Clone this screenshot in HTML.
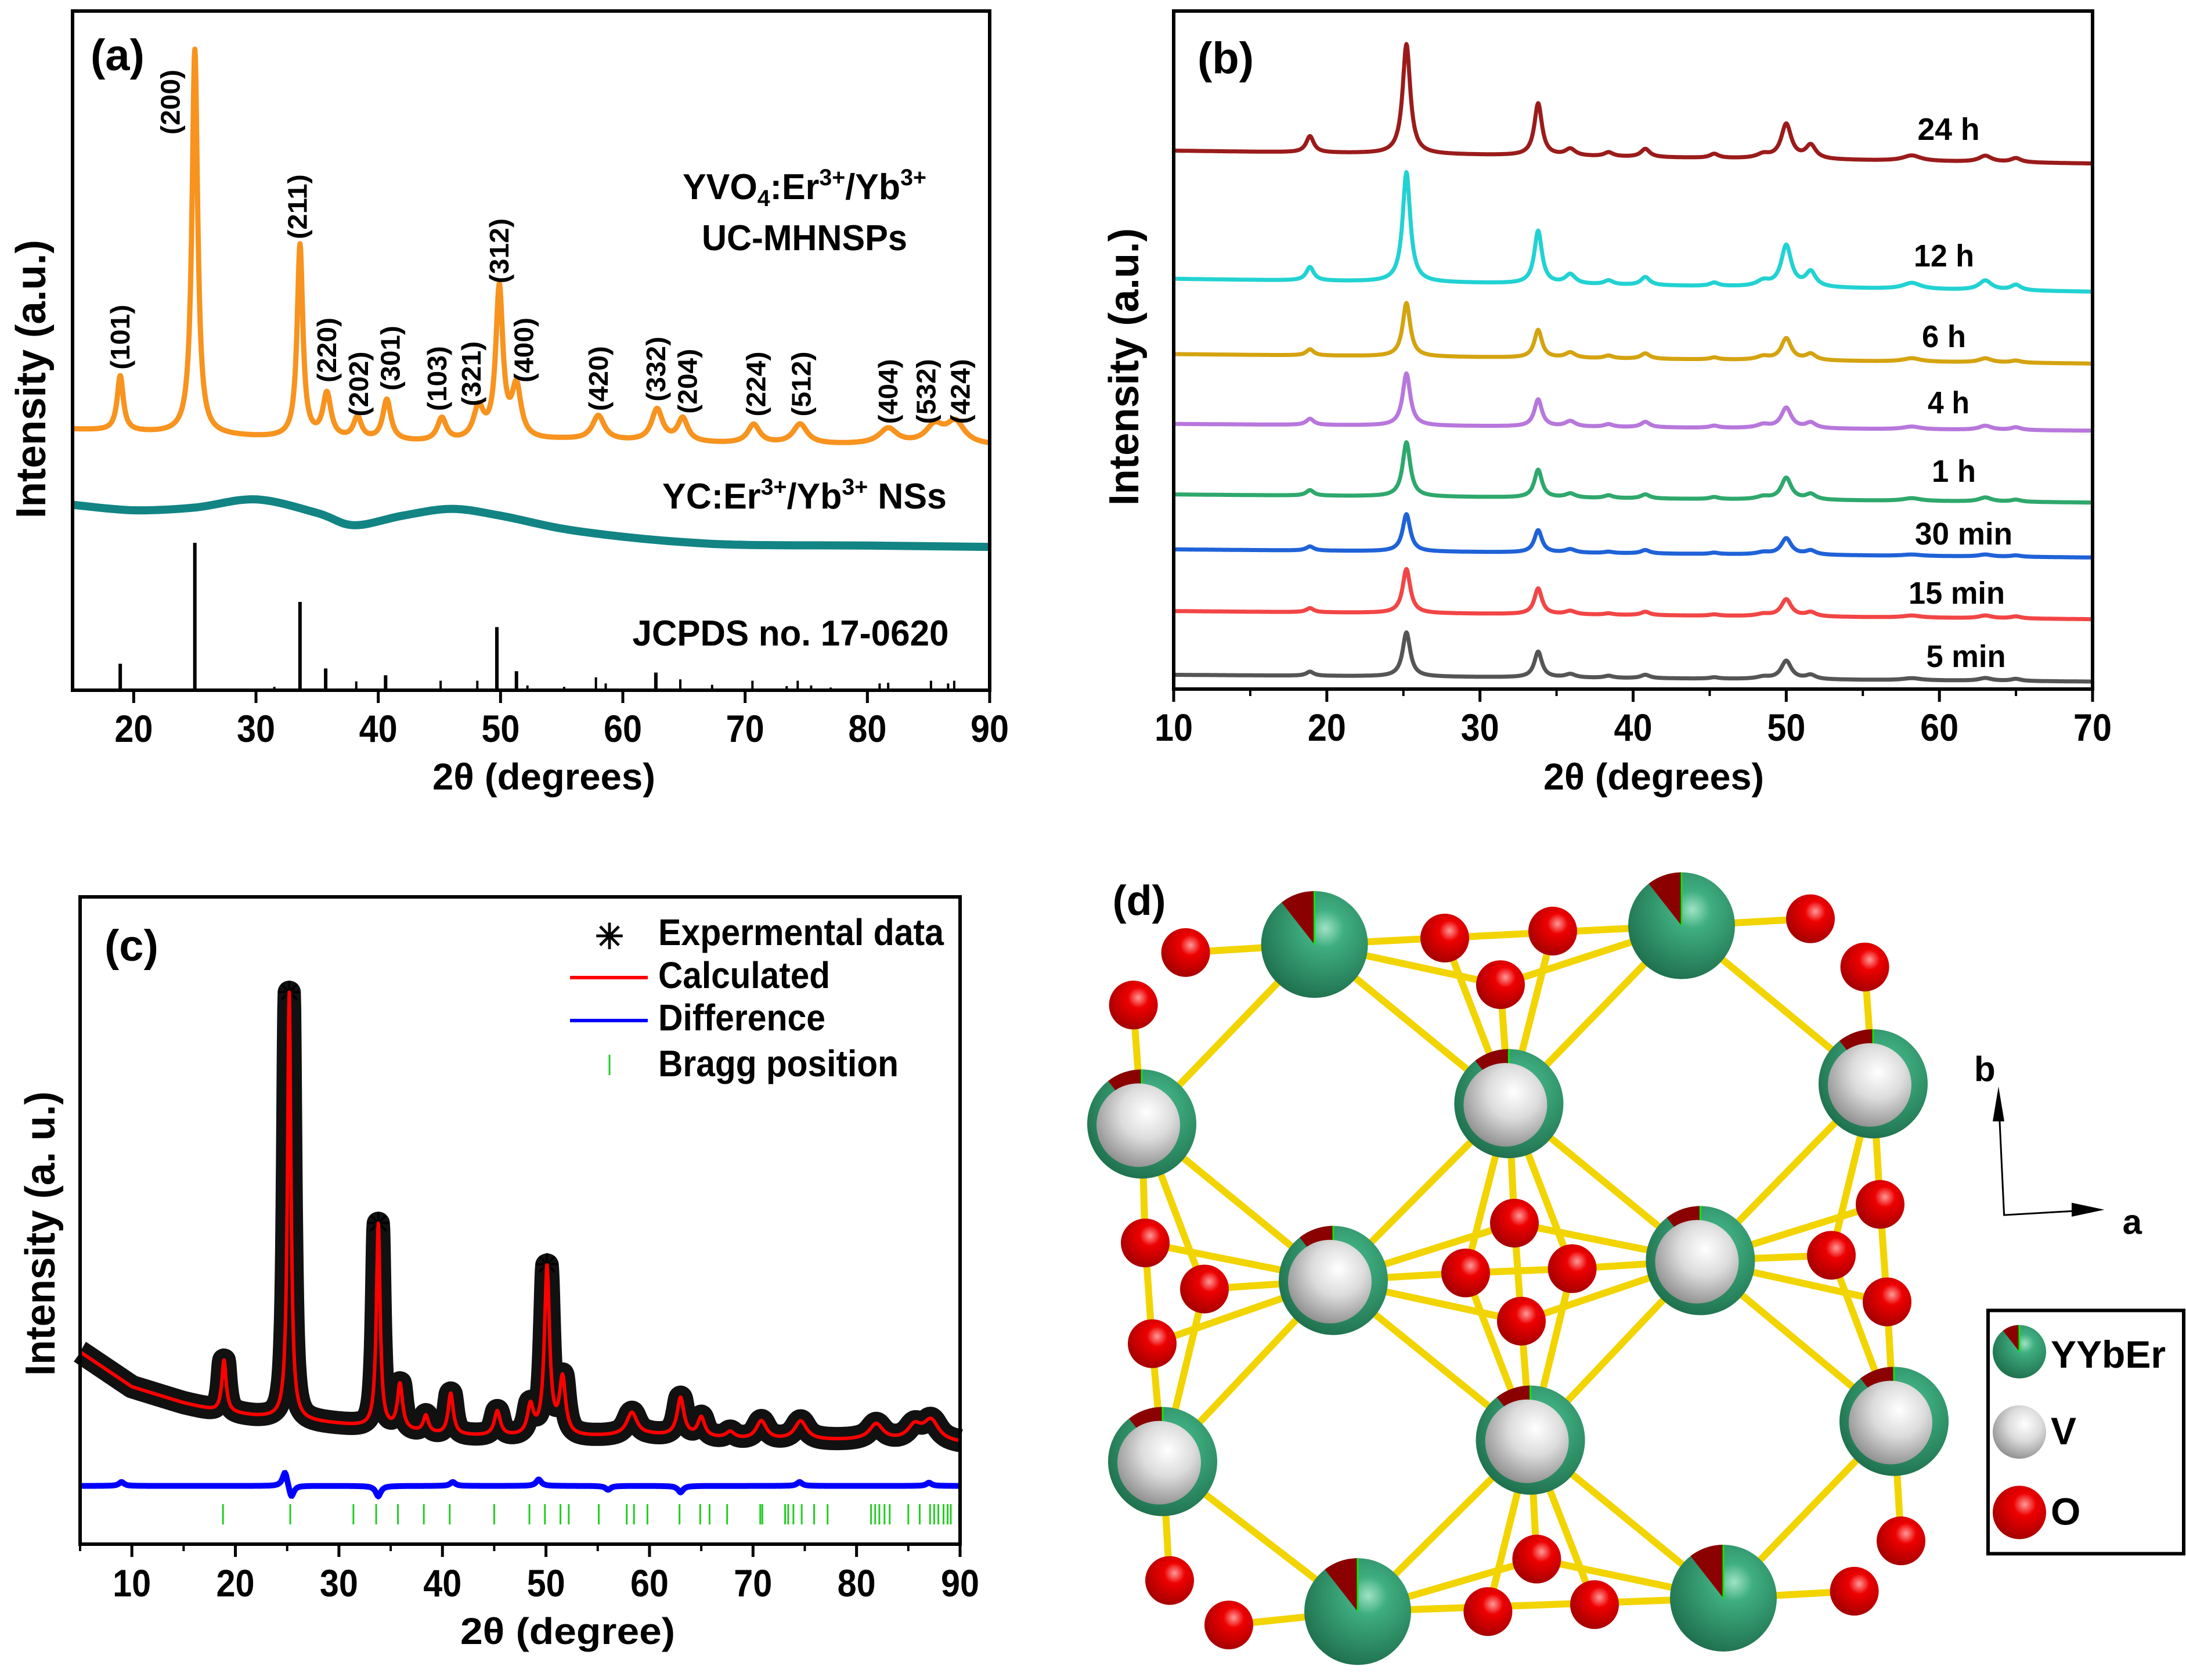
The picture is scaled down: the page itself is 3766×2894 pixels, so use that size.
<!DOCTYPE html>
<html><head><meta charset="utf-8">
<style>
html,body{margin:0;padding:0;background:#fff;}
svg{display:block;}
text{font-family:"Liberation Sans Narrow","Liberation Sans",sans-serif;font-weight:bold;fill:#000;}
</style></head>
<body>
<svg id="fig" width="3766" height="2894" viewBox="0 0 3766 2894" xmlns="http://www.w3.org/2000/svg">
<defs>
<radialGradient id="gGreen" cx="0.6" cy="0.35" r="0.7"><stop offset="0" stop-color="#9fe3c3"/><stop offset="0.25" stop-color="#3fae80"/><stop offset="1" stop-color="#1e6e4c"/></radialGradient>
<radialGradient id="gWhite" cx="0.6" cy="0.35" r="0.7"><stop offset="0" stop-color="#ffffff"/><stop offset="0.45" stop-color="#dcdcdc"/><stop offset="1" stop-color="#8c8c8c"/></radialGradient>
<radialGradient id="gRed" cx="0.6" cy="0.35" r="0.7"><stop offset="0" stop-color="#ff9a9a"/><stop offset="0.3" stop-color="#ee0000"/><stop offset="1" stop-color="#a00000"/></radialGradient>
</defs>
<rect x="0" y="0" width="3766" height="2894" fill="#fff"/>

<g>
<text x="156" y="121" font-size="76">(a)</text>
<text x="1386" y="343" font-size="62" text-anchor="middle" textLength="420" lengthAdjust="spacingAndGlyphs">YVO<tspan font-size="40" dy="12">4</tspan><tspan dy="-12">:Er</tspan><tspan font-size="40" dy="-24">3+</tspan><tspan dy="24">/Yb</tspan><tspan font-size="40" dy="-24">3+</tspan></text>
<text x="1386" y="431" font-size="62" text-anchor="middle" textLength="354" lengthAdjust="spacingAndGlyphs">UC-MHNSPs</text>
<text x="1386" y="876" font-size="62" text-anchor="middle" textLength="490" lengthAdjust="spacingAndGlyphs">YC:Er<tspan font-size="40" dy="-24">3+</tspan><tspan dy="24">/Yb</tspan><tspan font-size="40" dy="-24">3+</tspan><tspan dy="24"> NSs</tspan></text>
<text x="1362" y="1112" font-size="62" text-anchor="middle" textLength="545" lengthAdjust="spacingAndGlyphs">JCPDS no. 17-0620</text>
<text x="937" y="1360" font-size="64" text-anchor="middle" textLength="384" lengthAdjust="spacingAndGlyphs">2θ (degrees)</text>
<text transform="translate(78,653) rotate(-90)" font-size="72" text-anchor="middle" textLength="480" lengthAdjust="spacingAndGlyphs">Intensity (a.u.)</text>
</g>

<g>
<text x="2063" y="126" font-size="76">(b)</text>
<text x="2849" y="1360" font-size="64" text-anchor="middle" textLength="380" lengthAdjust="spacingAndGlyphs">2θ (degrees)</text>
<text transform="translate(1961,632) rotate(-90)" font-size="72" text-anchor="middle" textLength="478" lengthAdjust="spacingAndGlyphs">Intensity (a.u.)</text>
</g>

<g>
<text x="180" y="1655" font-size="76">(c)</text>
<text x="978" y="2832" font-size="64" text-anchor="middle" textLength="370" lengthAdjust="spacingAndGlyphs">2θ (degree)</text>
<text transform="translate(94,2125) rotate(-90)" font-size="72" text-anchor="middle" textLength="490" lengthAdjust="spacingAndGlyphs">Intensity (a. u.)</text>
<g>
<text x="1050" y="1634" font-size="60" text-anchor="middle">✳</text>
<text x="1134" y="1628" font-size="64" textLength="492" lengthAdjust="spacingAndGlyphs">Expermental data</text>
<line x1="982" y1="1684" x2="1116" y2="1684" stroke="#ff0000" stroke-width="6"/>
<text x="1134" y="1702" font-size="64" textLength="296" lengthAdjust="spacingAndGlyphs">Calculated</text>
<line x1="982" y1="1758" x2="1116" y2="1758" stroke="#0000ff" stroke-width="6"/>
<text x="1134" y="1775" font-size="64" textLength="288" lengthAdjust="spacingAndGlyphs">Difference</text>
<line x1="1050" y1="1817" x2="1050" y2="1852" stroke="#22cc22" stroke-width="3"/>
<text x="1134" y="1854" font-size="64" textLength="414" lengthAdjust="spacingAndGlyphs">Bragg position</text>
</g>
</g>

<g id="panelD"></g>
</svg>

<script>
const NS = 'http://www.w3.org/2000/svg';
const svg = document.getElementById('fig');
function mk(tag, parent) { const e = document.createElementNS(NS, tag); (parent || svg).appendChild(e); return e; }

// ---------- DATA: panel a ----------
const aTicks = [20, 30, 40, 50, 60, 70, 80, 90];
const aBaseX = [15, 25, 30, 40, 45, 55, 70, 90];
const aBaseY = [384, 376, 372, 366, 364, 368, 362, 360];
const aPeakPos = [18.9, 25.0, 33.6, 35.8, 38.3, 40.7, 45.2, 48.2, 49.9, 51.3, 58.0, 62.8, 64.9, 70.7, 74.5, 81.7, 85.5, 87.2];
const aPeakHeight = [81, 567, 284, 65, 32, 60, 34, 46, 221, 75, 36, 47, 34, 28, 29, 23, 26, 32];
const aPeakWidth = [0.3, 0.28, 0.28, 0.4, 0.4, 0.4, 0.45, 0.5, 0.35, 0.45, 0.6, 0.55, 0.5, 0.6, 0.7, 0.9, 0.9, 0.9];
const aAmorphX = [15, 20, 25, 30, 35, 38, 42, 46, 50, 55, 60, 65, 70, 80, 90];
const aAmorphY = [273, 265, 269, 281, 261, 243, 257, 267, 257, 238, 226, 218, 214, 213, 211];
const aStickPos = [18.9, 25.0, 31.5, 33.6, 35.7, 38.2, 40.6, 45.1, 48.1, 49.7, 51.3, 52.2, 55.2, 57.8, 58.6, 62.7, 64.7, 67.3, 70.6, 73.4, 74.3, 75.4, 77.0, 81.0, 81.7, 85.2, 86.6, 87.1];
const aStickHeight = [39, 217, 5, 130, 32, 13, 22, 14, 14, 93, 28, 7, 5, 19, 10, 26, 16, 8, 14, 6, 14, 7, 4, 10, 11, 14, 10, 14];
const aLabels = ['(101)', '(200)', '(211)', '(220)', '(202)', '(301)', '(103)', '(321)', '(312)', '(400)', '(420)', '(332)', '(204)', '(224)', '(512)', '(404)', '(532)', '(424)'];
const aLabelX = [18.9, 23.0, 33.4, 35.8, 38.4, 41.0, 44.8, 47.6, 49.9, 51.9, 58.0, 62.7, 65.3, 70.9, 74.6, 81.7, 84.8, 87.6];
const aLabelY = [472, 818, 664, 453, 403, 441, 411, 418, 599, 453, 411, 425, 407, 403, 403, 392, 392, 392];

// ---------- DATA: panel b ----------
const bTicks = [10, 20, 30, 40, 50, 60, 70];
const bPeakPos = [18.9, 25.2, 33.8, 35.9, 38.4, 40.8, 45.3, 48.5, 50.0, 51.6, 58.2, 63.0, 65.0];
const bPeakWidth = [0.3, 0.3, 0.3, 0.4, 0.35, 0.35, 0.35, 0.5, 0.4, 0.4, 0.7, 0.5, 0.4];
const bSeriesNames = ['24 h', '12 h', '6 h', '4 h', '1 h', '30 min', '15 min', '5 min'];
const bSeriesColors = ['#9b1b1b', '#22d2d2', '#d4a310', '#b777dc', '#2ea86c', '#1f62d8', '#f24545', '#555555'];
const bBaseLeft = [794, 605, 494, 391, 287, 206, 115, 21];
const bBaseRight = [775, 586, 480, 381, 275, 194, 103, 11];
const bH24h = [24, 162, 77, 10, 6, 12, 6, 6, 51, 20, 8, 9, 6];
const bH12h = [20, 162, 78, 14, 6, 12, 5, 8, 61, 22, 9, 14, 8];
const bH6h = [9, 79, 41, 8, 4, 8, 3, 5, 32, 9, 5, 6, 3];
const bH4h = [9, 77, 40, 8, 4, 8, 3, 5, 30, 8, 4, 6, 4];
const bH1h = [8, 80, 41, 6, 4, 6, 3, 4, 32, 8, 4, 6, 3];
const bH30m = [6, 55, 33, 5, 2, 5, 2, 3, 24, 6, 2, 3, 2];
const bH15m = [6, 65, 38, 5, 2, 5, 2, 3, 25, 6, 3, 4, 3];
const bH5m = [6, 65, 38, 5, 3, 5, 2, 3, 27, 6, 3, 4, 3];
const bLabelX = [3357, 3349, 3349, 3357, 3366, 3383, 3371, 3387];
const bLabelY = [241, 459, 598, 712, 830, 938, 1040, 1149];
const bLabelW = [107, 104, 76, 72, 76, 168, 166, 137];

// ---------- DATA: panel c ----------
const cTicks = [10, 20, 30, 40, 50, 60, 70, 80, 90];
const cBaseX = [5, 10, 15, 18, 22, 30, 40, 50, 60, 70, 80, 90];
const cBaseY = [297, 243, 218, 206, 197, 185, 168, 164, 168, 160, 160, 156];
const cPeakPos = [18.9, 25.2, 33.8, 35.9, 38.4, 40.8, 45.3, 48.5, 50.1, 51.6, 58.3, 63.0, 65.0, 67.8, 70.8, 74.6, 81.9, 85.6, 87.2];
const cPeakHeight = [80, 660, 315, 70, 26, 64, 38, 45, 261, 87, 35, 59, 30, 10, 29, 29, 25, 22, 32];
const cPeakWidth = [0.25, 0.2, 0.22, 0.3, 0.3, 0.3, 0.35, 0.35, 0.3, 0.35, 0.6, 0.4, 0.4, 0.5, 0.6, 0.7, 0.8, 0.8, 0.9];
const cDiffBase = 90;
const cDiffPos = [9, 24.8, 25.4, 33.8, 41, 49.3, 56, 63, 74.5, 87];
const cDiffAmp = [6, 24, -20, -16, 6, 10, -6, -10, 6, 5];
const cBragg = [18.8, 25.3, 31.4, 33.6, 35.7, 38.2, 40.7, 45.0, 48.4, 49.9, 51.4, 52.2, 55.1, 57.8, 58.5, 59.8, 62.9, 64.9, 65.8, 67.5, 70.7, 70.9, 73.1, 73.4, 73.9, 74.7, 75.9, 77.2, 81.4, 81.8, 82.2, 82.7, 83.2, 85.0, 86.1, 87.1, 87.5, 87.9, 88.4, 88.8, 89.1, 89.9];

// ---------- helpers ----------
function interp(xs, ys, x) {
  if (x <= xs[0]) return ys[0];
  for (let i = 1; i < xs.length; i++) if (x <= xs[i]) { const t = (x - xs[i-1]) / (xs[i] - xs[i-1]); return ys[i-1] + t * (ys[i] - ys[i-1]); }
  return ys[ys.length - 1];
}
function lor(x, pos, h, w) { let s = 0; for (let i = 0; i < pos.length; i++) { const d = (x - pos[i]) / w[i]; s += h[i] / (1 + d * d); } return s; }
function makeAxes(b) {
  b.sx = v => b.x0 + (v - b.d0) / (b.d1 - b.d0) * (b.x1 - b.x0);
  b.sy = v => b.yb - v / 1000 * (b.yb - b.yt);
  return b;
}
function frame(b, ticks, minor, name) {
  const g = mk('g');
  
  
  const r = mk('path', g);
  
  
  r.setAttribute('d', `M${b.x0},${b.yb} L${b.x1},${b.yb} L${b.x1},${b.yt} L${b.x0},${b.yt} Z`);
  r.setAttribute('fill', 'none'); r.setAttribute('stroke', '#000'); r.setAttribute('stroke-width', '6');
  ticks.forEach(t => {
    const l = mk('line', g);
    
    
    l.setAttribute('x1', b.sx(t)); l.setAttribute('x2', b.sx(t)); l.setAttribute('y1', b.yb); l.setAttribute('y2', b.yb + 22);
    l.setAttribute('stroke', '#000'); l.setAttribute('stroke-width', '5');
    const tx = mk('text', g);
    
    
    tx.setAttribute('x', b.sx(t)); tx.setAttribute('y', b.labY);
    tx.setAttribute('font-size', '66'); tx.setAttribute('text-anchor', 'middle');
    tx.setAttribute('textLength', '66'); tx.setAttribute('lengthAdjust', 'spacingAndGlyphs');
    tx.textContent = String(t);
  });
  minor.forEach(t => {
    const l = mk('line', g);
    
    
    l.setAttribute('x1', b.sx(t)); l.setAttribute('x2', b.sx(t)); l.setAttribute('y1', b.yb); l.setAttribute('y2', b.yb + 12);
    l.setAttribute('stroke', '#000'); l.setAttribute('stroke-width', '4');
  });
}
function pathFrom(b, x0, x1, step, f) {
  let d = '';
  for (let x = x0; x <= x1 + 1e-9; x += step) { d += (d ? 'L' : 'M') + b.sx(x).toFixed(1) + ',' + b.sy(f(x)).toFixed(1); }
  return d;
}
function smoothPath(pts) {
  let d = 'M' + pts[0][0].toFixed(1) + ',' + pts[0][1].toFixed(1);
  for (let i = 0; i < pts.length - 1; i++) {
    const p0 = pts[Math.max(0, i - 1)], p1 = pts[i], p2 = pts[i + 1], p3 = pts[Math.min(pts.length - 1, i + 2)];
    const c1 = [p1[0] + (p2[0] - p0[0]) / 6, p1[1] + (p2[1] - p0[1]) / 6];
    const c2 = [p2[0] - (p3[0] - p1[0]) / 6, p2[1] - (p3[1] - p1[1]) / 6];
    d += `C${c1[0].toFixed(1)},${c1[1].toFixed(1)} ${c2[0].toFixed(1)},${c2[1].toFixed(1)} ${p2[0].toFixed(1)},${p2[1].toFixed(1)}`;
  }
  return d;
}

// ---------- Panel a ----------
const A = makeAxes({ x0: 125, x1: 1705, yt: 19, yb: 1189, d0: 15, d1: 90, labY: 1278 });
const gA = mk('g');


const pOr = mk('path', gA);


pOr.setAttribute('d', pathFrom(A, 15, 90, 0.04, x => interp(aBaseX, aBaseY, x) + lor(x, aPeakPos, aPeakHeight, aPeakWidth)));
pOr.setAttribute('fill', 'none'); pOr.setAttribute('stroke', '#f7931e'); pOr.setAttribute('stroke-width', '9'); pOr.setAttribute('stroke-linejoin', 'round');
const pTe = mk('path', gA);


pTe.setAttribute('d', smoothPath(aAmorphX.map((x, i) => [A.sx(x), A.sy(aAmorphY[i])])));
pTe.setAttribute('fill', 'none'); pTe.setAttribute('stroke', '#128484'); pTe.setAttribute('stroke-width', '14'); pTe.setAttribute('stroke-linejoin', 'round');
aStickPos.forEach((p, i) => {
  const l = mk('line', gA);
  
  
  l.setAttribute('x1', A.sx(p)); l.setAttribute('x2', A.sx(p));
  l.setAttribute('y1', A.yb); l.setAttribute('y2', A.sy(aStickHeight[i]));
  l.setAttribute('stroke', '#000'); l.setAttribute('stroke-width', aStickHeight[i] > 20 ? '6' : '4');
});
aLabels.forEach((s, i) => {
  const t = mk('text', gA);
  
  
  const x = A.sx(aLabelX[i]) + 16, y = A.sy(aLabelY[i]);
  t.setAttribute('transform', `translate(${x.toFixed(1)},${y.toFixed(1)}) rotate(-90)`);
  t.setAttribute('font-size', '46'); t.setAttribute('textLength', '112'); t.setAttribute('lengthAdjust', 'spacingAndGlyphs');
  t.textContent = s;
});
frame(A, aTicks, [], 'panel-a');

// ---------- Panel b ----------
const B = makeAxes({ x0: 2022, x1: 3605, yt: 19, yb: 1187, d0: 10, d1: 70, labY: 1276 });
const bHeights = [bH24h, bH12h, bH6h, bH4h, bH1h, bH30m, bH15m, bH5m];
const gB = mk('g');


bSeriesNames.forEach((nm, k) => {
  const p = mk('path', gB);
  
  
  p.setAttribute('d', pathFrom(B, 10, 70, 0.04, x => bBaseLeft[k] + (bBaseRight[k] - bBaseLeft[k]) * (x - 10) / 60 + lor(x, bPeakPos, bHeights[k], bPeakWidth)));
  p.setAttribute('fill', 'none'); p.setAttribute('stroke', bSeriesColors[k]); p.setAttribute('stroke-width', '7'); p.setAttribute('stroke-linejoin', 'round');
  const t = mk('text', gB);
  
  
  t.setAttribute('x', bLabelX[k]); t.setAttribute('y', bLabelY[k]);
  t.setAttribute('font-size', '54'); t.setAttribute('text-anchor', 'middle');
  t.setAttribute('textLength', bLabelW[k]); t.setAttribute('lengthAdjust', 'spacingAndGlyphs');
  t.textContent = nm;
});
frame(B, bTicks, [15, 25, 35, 45, 55, 65], 'panel-b');

// ---------- Panel c ----------
const C = makeAxes({ x0: 138, x1: 1654, yt: 1545, yb: 2660, d0: 5, d1: 90, labY: 2750 });
const gC = mk('g');


const cCalc = x => interp(cBaseX, cBaseY, x) + lor(x, cPeakPos, cPeakHeight, cPeakWidth);
const pExp = mk('path', gC);


pExp.setAttribute('d', pathFrom(C, 5, 90, 0.04, cCalc));
pExp.setAttribute('fill', 'none'); pExp.setAttribute('stroke', '#111'); pExp.setAttribute('stroke-width', '40'); pExp.setAttribute('stroke-linejoin', 'round');
[25.2, 33.8, 50.1].forEach(p => {
  const t = mk('text', gC);
  
  
  t.setAttribute('x', C.sx(p)); t.setAttribute('y', C.sy(cCalc(p)) + 18);
  t.setAttribute('font-size', '50'); t.setAttribute('text-anchor', 'middle');
  t.textContent = '✳';
});
const pCalc = mk('path', gC);


pCalc.setAttribute('d', pathFrom(C, 5, 90, 0.04, cCalc));
pCalc.setAttribute('fill', 'none'); pCalc.setAttribute('stroke', '#ff0000'); pCalc.setAttribute('stroke-width', '6'); pCalc.setAttribute('stroke-linejoin', 'round');
const pDiff = mk('path', gC);


pDiff.setAttribute('d', pathFrom(C, 5, 90, 0.05, x => cDiffBase + lor(x, cDiffPos, cDiffAmp, cDiffPos.map(() => 0.3))));
pDiff.setAttribute('fill', 'none'); pDiff.setAttribute('stroke', '#0000ff'); pDiff.setAttribute('stroke-width', '10');
cBragg.forEach(p => {
  const l = mk('line', gC);
  
  
  l.setAttribute('x1', C.sx(p)); l.setAttribute('x2', C.sx(p)); l.setAttribute('y1', 2591); l.setAttribute('y2', 2626);
  l.setAttribute('stroke', '#22cc22'); l.setAttribute('stroke-width', '3');
});
frame(C, cTicks, [5, 15, 25, 35, 45, 55, 65, 75, 85], 'panel-c');

// ---------- Panel d ----------
const gD = document.getElementById('panelD');
const X = x => 1883 + 1.2 * x, Y = y => 1447 + 0.923 * y;
const bonds = [[133,210,318,195],[318,195,845,160],[845,160,1030,147],[318,195,585,270],[585,270,845,160],[505,183,597,492],[660,170,597,492],[585,270,597,492],[318,195,597,492],[845,160,597,492],[318,195,70,530],[845,160,1120,455],[58,308,70,530],[1108,237,1120,455],[70,530,345,822],[597,492,345,822],[597,492,872,785],[1120,455,872,785],[597,492,605,715],[597,492,535,808],[597,492,688,800],[70,530,75,752],[70,530,160,838],[1120,455,1130,680],[1120,455,1060,775],[75,752,85,940],[85,940,100,1160],[160,838,100,1160],[75,752,345,822],[160,838,345,822],[85,940,345,822],[345,822,605,715],[345,822,535,808],[345,822,615,898],[872,785,605,715],[872,785,688,800],[872,785,615,898],[872,785,1130,680],[872,785,1060,775],[872,785,1140,862],[535,808,688,800],[1130,680,1140,862],[1140,862,1150,1085],[1060,775,1150,1085],[345,822,100,1160],[345,822,628,1120],[872,785,628,1120],[872,785,1150,1085],[535,808,628,1120],[615,898,628,1120],[688,800,628,1120],[605,715,615,898],[100,1160,110,1382],[100,1160,380,1440],[628,1120,380,1440],[628,1120,905,1415],[1150,1085,905,1415],[1150,1085,1160,1308],[628,1120,637,1342],[628,1120,567,1440],[628,1120,720,1427],[195,1465,380,1440],[380,1440,905,1415],[905,1415,1093,1402],[380,1440,637,1342],[637,1342,905,1415]];
bonds.forEach(b => {
  const l = mk('line', gD);
  
  
  l.setAttribute('x1', X(b[0])); l.setAttribute('y1', Y(b[1])); l.setAttribute('x2', X(b[2])); l.setAttribute('y2', Y(b[3]));
  l.setAttribute('stroke', '#f2d400'); l.setAttribute('stroke-width', '12');
});
function wedge(cx, cy, r, parent) {
  const a = -128 * Math.PI / 180;
  const p = mk('path', parent);
  
  
  p.setAttribute('d', `M${cx},${cy} L${cx},${cy - r} A${r},${r} 0 0 0 ${(cx + r * Math.cos(a)).toFixed(1)},${(cy + r * Math.sin(a)).toFixed(1)} Z`);
  p.setAttribute('fill', '#8b0000');
  const g = mk('line', parent);
  
  
  g.setAttribute('x1', cx); g.setAttribute('y1', cy); g.setAttribute('x2', cx); g.setAttribute('y2', cy - r);
  g.setAttribute('stroke', '#00ee00'); g.setAttribute('stroke-width', '3');
}
function sphere(cx, cy, r, grad, name, parent) {
  const c = mk('circle', parent);
  
  
  c.setAttribute('cx', cx); c.setAttribute('cy', cy); c.setAttribute('r', r); c.setAttribute('fill', 'url(#' + grad + ')');
}
const oxygens = [[133,210],[58,308],[505,183],[660,170],[1030,147],[1108,237],[585,270],[75,752],[160,838],[85,940],[605,715],[535,808],[688,800],[615,898],[1130,680],[1060,775],[1140,862],[1160,1308],[110,1382],[195,1465],[637,1342],[567,1440],[720,1427],[1093,1402]];
oxygens.forEach(o => sphere(X(o[0]), Y(o[1]), 42, 'gRed', 'oxygen-atom', gD));
const bigSites = [[318,195],[845,160],[380,1440],[905,1415]];
bigSites.forEach(s => { sphere(X(s[0]), Y(s[1]), 92, 'gGreen', 'yybEr-atom', gD); wedge(X(s[0]), Y(s[1]), 92, gD); });
const vSites = [[70,530],[597,492],[1120,455],[345,822],[872,785],[100,1160],[628,1120],[1150,1085]];
vSites.forEach(s => { sphere(X(s[0]), Y(s[1]), 94, 'gGreen', 'yybEr-site-ring', gD); wedge(X(s[0]), Y(s[1]), 94, gD); sphere(X(s[0]) - 6, Y(s[1]) + 2, 72, 'gWhite', 'vanadium-atom', gD); });
const ax = mk('path', gD);


ax.setAttribute('d', `M${X(1300)},${Y(480)} L${X(1308)},${Y(700)} L${X(1440)},${Y(690)}`);
ax.setAttribute('fill', 'none'); ax.setAttribute('stroke', '#000'); ax.setAttribute('stroke-width', '3');
const ah1 = mk('path', gD);


ah1.setAttribute('d', `M${X(1300)},${Y(460)} L${X(1300) - 10},${Y(525)} L${X(1300) + 10},${Y(525)} Z`);
const ah2 = mk('path', gD);


ah2.setAttribute('d', `M${X(1452)},${Y(690)} L${X(1405)},${Y(690) - 12} L${X(1405)},${Y(690) + 12} Z`);
const tb = mk('text', gD);


tb.setAttribute('x', X(1265)); tb.setAttribute('y', Y(450)); tb.setAttribute('font-size', '60'); tb.textContent = 'b';
const ta = mk('text', gD);


ta.setAttribute('x', X(1478)); ta.setAttribute('y', Y(735)); ta.setAttribute('font-size', '60'); ta.textContent = 'a';
const td = mk('text', gD);


td.setAttribute('x', X(28)); td.setAttribute('y', Y(140)); td.setAttribute('font-size', '72'); td.textContent = '(d)';
const lg = mk('g', gD);


const lr = mk('rect', lg);


lr.setAttribute('x', X(1285)); lr.setAttribute('y', Y(878)); lr.setAttribute('width', 3766 - X(1285) - 4); lr.setAttribute('height', Y(1332) - Y(878));
lr.setAttribute('fill', '#fff'); lr.setAttribute('stroke', '#000'); lr.setAttribute('stroke-width', '6');
sphere(X(1330), Y(955), 46, 'gGreen', 'legend-yybEr-swatch', lg); wedge(X(1330), Y(955), 46, lg);
sphere(X(1330), Y(1105), 46, 'gWhite', 'legend-v-swatch', lg);
sphere(X(1330), Y(1255), 46, 'gRed', 'legend-o-swatch', lg);
[['YYbEr', 985], ['V', 1128], ['O', 1278]].forEach(it => {
  const t = mk('text', lg);
  
  
  t.setAttribute('x', X(1375)); t.setAttribute('y', Y(it[1])); t.setAttribute('font-size', '66');
  t.textContent = it[0];
});
</script>
</body></html>
